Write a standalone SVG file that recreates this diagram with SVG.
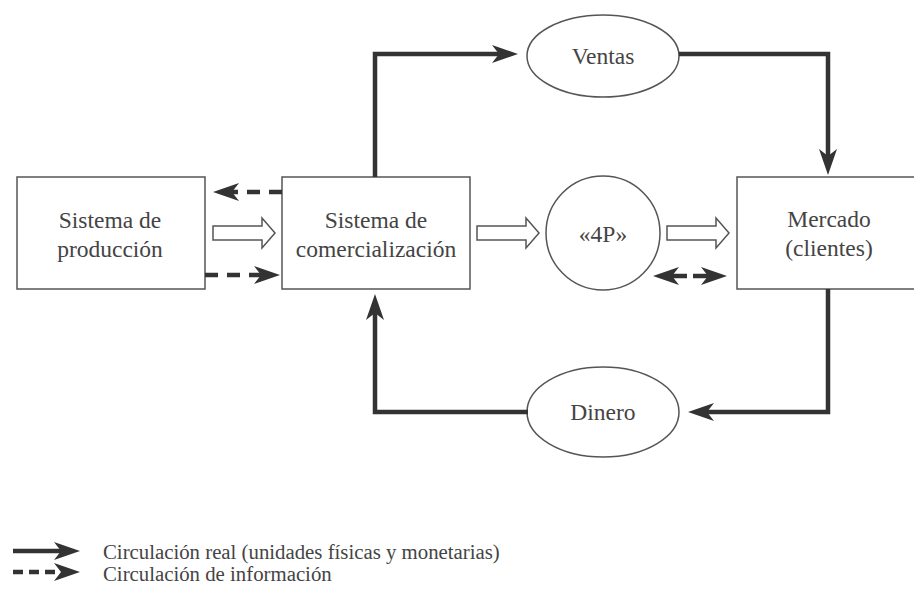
<svg xmlns="http://www.w3.org/2000/svg" width="914" height="600" viewBox="0 0 914 600">
<defs>
<style>
.box{fill:#fff;stroke:#555;stroke-width:1.5}
.lbl{font-family:"Liberation Serif","Times New Roman",serif;font-size:23.5px;fill:#444;text-anchor:middle}
.leg{font-family:"Liberation Serif","Times New Roman",serif;font-size:20.8px;fill:#444}
.flow{fill:none;stroke:#333;stroke-width:4.5;marker-end:url(#ah)}
.info{fill:none;stroke:#333;stroke-width:4.5;stroke-dasharray:13,9;marker-end:url(#ah)}
.hollow{fill:#fff;stroke:#555;stroke-width:1.5}
</style>
<marker id="ah" viewBox="0 0 26 18" refX="7" refY="9" markerWidth="26" markerHeight="18" markerUnits="userSpaceOnUse" orient="auto">
<path d="M0,0 L26,9 L0,18 L7,9 Z" fill="#333"/>
</marker>
</defs>
<rect width="914" height="600" fill="#fff"/>

<g id="produccion">
<rect class="box" x="17" y="177" width="188" height="112"/>
<text class="lbl" x="110" y="228">Sistema de</text>
<text class="lbl" x="110" y="257">producción</text>
</g>
<g id="comercializacion">
<rect class="box" x="282" y="177" width="188" height="112"/>
<text class="lbl" x="376" y="228">Sistema de</text>
<text class="lbl" x="376" y="257">comercialización</text>
</g>
<g id="cuatroP">
<circle class="box" cx="603" cy="233" r="57"/>
<text class="lbl" x="603" y="242">«4P»</text>
</g>
<g id="mercado">
<rect class="box" x="737" y="177" width="190" height="112"/>
<text class="lbl" x="829" y="227">Mercado</text>
<text class="lbl" x="829" y="256">(clientes)</text>
</g>
<g id="ventas">
<ellipse class="box" cx="603" cy="56" rx="76" ry="41"/>
<text class="lbl" x="603" y="64">Ventas</text>
</g>
<g id="dinero">
<ellipse class="box" cx="603" cy="412" rx="76" ry="45"/>
<text class="lbl" x="603" y="420">Dinero</text>
</g>

<g id="connectors">
<path class="flow" d="M375,177 V54 H499"/>
<path class="flow" d="M679,54 H828 V156"/>
<path class="flow" d="M828,289 V412 H707"/>
<path class="flow" d="M528,412 H375 V313"/>
<path class="info" d="M282,192 H232"/>
<path class="info" d="M205,275 H261"/>
<path class="info" style="stroke-dasharray:none" d="M687,276 H672"/>
<path class="info" style="stroke-dasharray:none" d="M693,276 H708"/>
<polygon class="hollow" points="213,226 262,226 262,218 275,233 262,248 262,240 213,240"/>
<polygon class="hollow" points="477,226 526,226 526,218 539,233 526,248 526,240 477,240"/>
<polygon class="hollow" points="667,226 716,226 716,218 729,233 716,248 716,240 667,240"/>
</g>

<g id="legend">
<path class="flow" d="M13,551 H61"/>
<text class="leg" x="103" y="559">Circulación real (unidades físicas y monetarias)</text>
<path class="info" style="stroke-dasharray:10,6" d="M13,572 H61"/>
<text class="leg" x="103" y="581">Circulación de información</text>
</g>
</svg>
